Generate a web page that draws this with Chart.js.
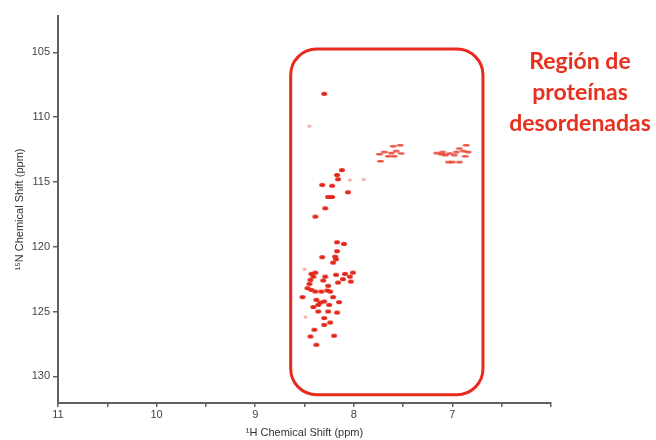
<!DOCTYPE html>
<html><head><meta charset="utf-8">
<script src="https://cdn.jsdelivr.net/npm/chart.js@4"></script>
<style>html,body{margin:0;padding:0;background:#fff}canvas{display:block}</style>
</head><body>
<canvas id="c" width="656" height="440"></canvas>
<script>
// Backbone amide peaks (1H ppm, 15N ppm)
const peakH = [8.30, 8.12, 8.17, 8.16, 8.32, 8.22, 8.06, 8.26, 8.22, 8.29, 8.39,
  8.17, 8.10, 8.17, 8.32, 8.19, 8.18, 8.21, 8.39, 8.43, 8.41, 8.29, 8.18, 8.09, 8.01, 8.04, 8.11, 8.44, 8.31, 8.16, 8.03, 8.45, 8.26, 8.47, 8.43, 8.39, 8.33, 8.27, 8.24, 8.52, 8.21, 8.38, 8.34, 8.30, 8.15, 8.36, 8.25, 8.41, 8.36, 8.26, 8.17, 8.30, 8.24, 8.30, 8.40, 8.44, 8.20, 8.38];
const peakN = [108.20, 114.08, 114.46, 114.79, 115.23, 115.29, 115.79, 116.16, 116.16, 117.03, 117.67,
  119.65, 119.78, 120.34, 120.80, 120.76, 120.96, 121.22, 121.99, 122.09, 122.30, 122.30, 122.16, 122.09, 121.99, 122.30, 122.50, 122.55, 122.60, 122.76, 122.68, 122.86, 123.01, 123.19, 123.32, 123.45, 123.45, 123.37, 123.45, 123.88, 123.88, 124.09, 124.30, 124.22, 124.27, 124.48, 124.48, 124.65, 124.99, 124.99, 125.07, 125.50, 125.84, 126.02, 126.40, 126.92, 126.86, 127.56];
// Weak peaks
const weakH = [8.45, 8.04, 7.90, 8.50, 8.49];
const weakN = [110.69, 114.85, 114.80, 121.73, 125.42];
// Side-chain NH2 streaks
const sideH = [7.74, 7.69, 7.62, 7.57, 7.53, 7.60, 7.73, 7.59, 7.52, 7.65, 7.16, 7.11, 7.10, 7.03, 6.96, 6.93, 6.89, 6.86, 6.84, 6.87, 7.04, 7.00, 6.93, 7.07, 6.98];
const sideN = [112.84, 112.67, 112.75, 112.59, 112.15, 112.23, 113.38, 113.00, 112.79, 113.00, 112.75, 112.85, 112.67, 112.79, 112.67, 112.41, 112.59, 112.15, 112.67, 113.00, 113.44, 113.44, 113.44, 112.90, 112.90];
// Axis ticks
const yTicks = [105, 110, 115, 120, 125, 130];
const xMajor = [11, 10, 9, 8, 7];
// Highlighted region (data units) and its caption
const regionBox = {h1: 8.64, h2: 6.69, n1: 104.75, n2: 131.41};
const regionText = ['Región de', 'proteínas', 'desordenadas'];

function toXY(h, n) { return h.map((v, i) => ({x: v, y: n[i]})); }
function ellipse(w, h, color) {
  const c = document.createElement('canvas');
  c.width = w + 2; c.height = h + 2;
  const g = c.getContext('2d');
  g.fillStyle = color;
  g.beginPath();
  g.ellipse((w + 2) / 2, (h + 2) / 2, w / 2, h / 2, 0, 0, Math.PI * 2);
  g.fill();
  return c;
}

const overlay = {
  id: 'overlay',
  afterDatasetsDraw(chart) {
    const {ctx, scales: {x, y}} = chart;
    const l = x.getPixelForValue(regionBox.h1), r = x.getPixelForValue(regionBox.h2);
    const t = y.getPixelForValue(regionBox.n1), b = y.getPixelForValue(regionBox.n2);
    ctx.save();
    ctx.strokeStyle = '#ea2a1c';
    ctx.lineWidth = 3;
    ctx.beginPath();
    ctx.roundRect(l, t, r - l, b - t, 26);
    ctx.stroke();
    ctx.fillStyle = '#e8301e';
    ctx.font = 'bold 23px Lato, "Open Sans", sans-serif';
    ctx.textAlign = 'center';
    ctx.textBaseline = 'alphabetic';
    regionText.forEach((s, i) => ctx.fillText(s, 580, 69 + i * 31));
    ctx.restore();
  }
};

new Chart(document.getElementById('c'), {
  type: 'scatter',
  data: {
    datasets: [
      {data: toXY(peakH, peakN), pointStyle: ellipse(6, 4, '#e2261a'), pointRadius: 3},
      {data: toXY(weakH, weakN), pointStyle: ellipse(4, 3, 'rgba(226,60,40,0.45)'), pointRadius: 2},
      {data: toXY(sideH, sideN), pointStyle: ellipse(7, 2.5, 'rgba(230,50,30,0.85)'), pointRadius: 3}
    ]
  },
  options: {
    responsive: false,
    animation: false,
    devicePixelRatio: 1,
    events: [],
    layout: {padding: {top: 16, right: 105, left: 0, bottom: 0}},
    plugins: {legend: {display: false}, tooltip: {enabled: false}},
    scales: {
      x: {
        type: 'linear', reverse: true, min: 6, max: 11,
        afterFit: s => { s.height = 37; },
        afterBuildTicks: s => { s.ticks = [11, 10.5, 10, 9.5, 9, 8.5, 8, 7.5, 7, 6.5, 6].map(v => ({value: v})); },
        ticks: {
          autoSkip: false, maxRotation: 0, padding: 1,
          color: '#444', font: {family: 'Liberation Sans, Arial, sans-serif', size: 11},
          callback: v => xMajor.includes(v) ? String(v) : ''
        },
        grid: {display: true, drawOnChartArea: false, drawTicks: true, tickLength: 4, color: '#606060', lineWidth: 1.5},
        border: {display: true, color: '#606060', width: 2},
        title: {display: true, text: '¹H Chemical Shift (ppm)', color: '#333', font: {family: 'Liberation Sans, Arial, sans-serif', size: 11}, padding: {top: 2, bottom: 0}}
      },
      y: {
        type: 'linear', reverse: true, min: 102.2, max: 132.05,
        afterFit: s => { s.width = 58; },
        afterBuildTicks: s => { s.ticks = yTicks.map(v => ({value: v})); },
        ticks: {padding: 3, color: '#444', font: {family: 'Liberation Sans, Arial, sans-serif', size: 11}},
        grid: {display: true, drawOnChartArea: false, drawTicks: true, tickLength: 5, color: '#606060', lineWidth: 1.5},
        border: {display: true, color: '#606060', width: 2},
        title: {display: true, text: '¹⁵N Chemical Shift (ppm)', color: '#333', font: {family: 'Liberation Sans, Arial, sans-serif', size: 11}, padding: {top: 13, bottom: 0}}
      }
    }
  },
  plugins: [overlay]
});
</script>
</body></html>
